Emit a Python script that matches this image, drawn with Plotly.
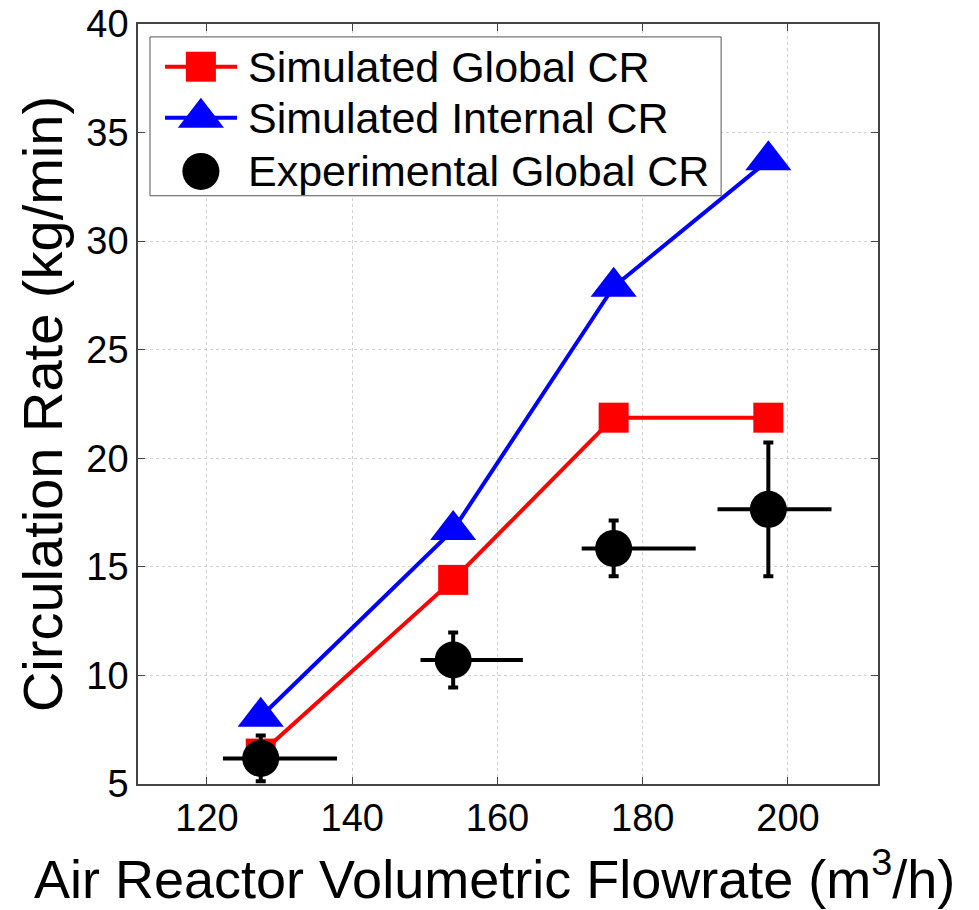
import plotly.graph_objects as go

# ---- data ----
flowrate = [127.4, 153.9, 176.0, 197.3]
sim_global_cr = [6.4, 14.4, 21.87, 21.87]
sim_internal_cr = [8.1, 16.7, 27.9, 33.72]
exp_global_cr = [6.18, 10.71, 15.85, 17.65]
exp_err_y = [1.05, 1.27, 1.28, 3.08]
exp_err_x_plus = [10.5, 9.6, 11.3, 8.7]
exp_err_x_minus = [5.2, 4.5, 4.4, 7.0]
x_ticks = [120, 140, 160, 180, 200]
y_ticks = [5, 10, 15, 20, 25, 30, 35, 40]
legend_labels = ["Simulated Global CR", "Simulated Internal CR", "Experimental Global CR"]
x_title = "Air Reactor Volumetric Flowrate (m<sup>3</sup>/h)"
y_title = "Circulation Rate (kg/min)"

FONT = "Liberation Sans, Arial, sans-serif"
RED = "#ff0000"
BLUE = "#0000ff"
BLACK = "#000000"

fig = go.Figure()

fig.add_trace(go.Scatter(
    x=flowrate, y=sim_global_cr, mode="lines+markers", name=legend_labels[0],
    line=dict(color=RED, width=4),
    marker=dict(symbol="square", size=30, color=RED),
    showlegend=False))

fig.add_trace(go.Scatter(
    x=flowrate, y=sim_internal_cr, mode="lines+markers", name=legend_labels[1],
    line=dict(color=BLUE, width=4),
    marker=dict(symbol="triangle-up", size=40, color=BLUE),
    showlegend=False))

fig.add_trace(go.Scatter(
    x=flowrate, y=exp_global_cr, mode="markers", name=legend_labels[2],
    marker=dict(symbol="circle", size=37, color=BLACK),
    error_y=dict(type="data", array=exp_err_y, color=BLACK, thickness=4, width=5),
    error_x=dict(type="data", symmetric=False, array=exp_err_x_plus,
                 arrayminus=exp_err_x_minus, color=BLACK, thickness=4, width=0),
    showlegend=False))

# ---- custom legend (overlay axes in plot-area fraction units) ----
box_x = [0.0162, 0.788, 0.788, 0.0162, 0.0162]
box_y = [0.774, 0.774, 0.983, 0.983, 0.774]
fig.add_trace(go.Scatter(
    x=box_x, y=box_y, mode="lines", fill="toself", fillcolor="white",
    line=dict(color="#555555", width=1), xaxis="x2", yaxis="y2",
    showlegend=False, hoverinfo="skip"))

leg_rows = [0.9438, 0.8767, 0.806]
sym_x = 0.085
line_x = [0.0365, 0.1338]
styles = [
    dict(color=RED, symbol="square", size=30, line=True),
    dict(color=BLUE, symbol="triangle-up", size=40, line=True),
    dict(color=BLACK, symbol="circle", size=37, line=False),
]
for lab, yy, st in zip(legend_labels, leg_rows, styles):
    if st["line"]:
        fig.add_trace(go.Scatter(
            x=line_x, y=[yy, yy], mode="lines", xaxis="x2", yaxis="y2",
            line=dict(color=st["color"], width=4), showlegend=False, hoverinfo="skip"))
    fig.add_trace(go.Scatter(
        x=[sym_x], y=[yy], mode="markers", xaxis="x2", yaxis="y2",
        marker=dict(symbol=st["symbol"], size=st["size"], color=st["color"]),
        showlegend=False, hoverinfo="skip"))
    fig.add_annotation(
        x=0.146, y=yy, xref="paper", yref="paper", text=lab, showarrow=False,
        xanchor="left", yanchor="middle", font=dict(family=FONT, size=43, color="black"))

# x-axis title as annotation (centred slightly left of the plot centre, like the reference)
fig.add_annotation(
    x=0.482, y=-0.12, xref="paper", yref="paper", text=x_title, showarrow=False,
    xanchor="center", yanchor="middle", font=dict(family=FONT, size=54, color="black"))

axis_common = dict(
    showline=True, linecolor="#444444", linewidth=1.5, mirror="ticks",
    ticks="inside", ticklen=7, tickwidth=1, tickcolor="#444444",
    showgrid=True, gridcolor="#d0d0d0", griddash="dot", gridwidth=1,
    zeroline=False, automargin=False,
    tickfont=dict(family=FONT, size=38, color="black"),
)

fig.update_layout(
    width=979, height=910,
    margin=dict(l=138, r=101, t=24, b=126),
    paper_bgcolor="white", plot_bgcolor="white",
    font=dict(family=FONT, color="black"),
    xaxis=dict(range=[110.5, 212.4], tickmode="array", tickvals=x_ticks,
               **axis_common),
    yaxis=dict(range=[5, 40], tickmode="array", tickvals=y_ticks,
               title=dict(text=y_title, font=dict(family=FONT, size=56), standoff=6),
               **axis_common),
    xaxis2=dict(overlaying="x", range=[0, 1], visible=False, fixedrange=True),
    yaxis2=dict(overlaying="y", range=[0, 1], visible=False, fixedrange=True),
    showlegend=False,
)

fig.write_html("out.html")
